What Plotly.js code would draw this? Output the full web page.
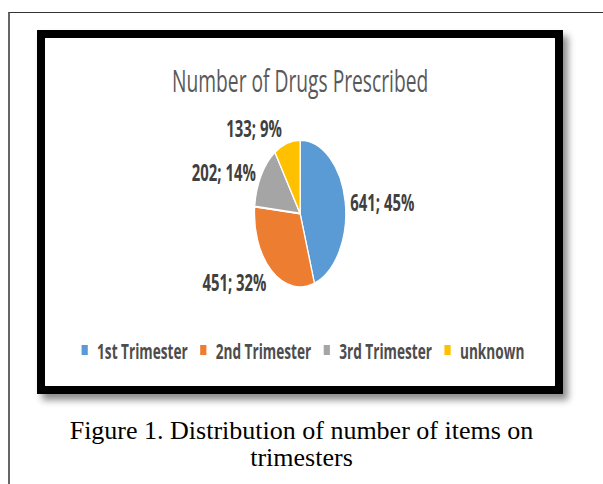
<!DOCTYPE html>
<html>
<head>
<meta charset="utf-8">
<script src="https://cdn.plot.ly/plotly-3.0.1.min.js"></script>
<style>
  html, body { margin: 0; padding: 0; background: #fff; overflow: hidden; width: 603px; height: 484px; }
  #frame { position: absolute; left: 8px; top: 12px; width: 700px; height: 600px;
           border-left: 2px solid #666; border-top: 1px solid #333; }
  #box { position: absolute; left: 37px; top: 30px; width: 526px; height: 364px;
         box-sizing: border-box; border: 8px solid #000; background: #fff;
         box-shadow: 5px 6px 7px rgba(0,0,0,0.45); }
  #chart { position: absolute; left: 45px; top: 38px; width: 823px; height: 348px;
           transform-origin: 0 0; transform: scaleX(0.62); }
  #caption { position: absolute; left: 0; top: 417px; width: 603px; text-align: center;
             font-family: "Liberation Serif", "Times New Roman", serif; font-size: 26px;
             line-height: 27px; color: #000; }
</style>
</head>
<body>
<div id="frame"></div>
<div id="box"></div>
<div id="chart"></div>
<div id="caption">Figure 1. Distribution of number of items on<br>trimesters</div>
<script>
// Prescribed drug counts per pregnancy trimester
const categories = ["1st Trimester", "2nd Trimester", "3rd Trimester", "unknown"];
const counts = [641, 451, 202, 133];
const sliceColors = ["#5B9BD5", "#ED7D31", "#A5A5A5", "#FFC000"];
const chartTitle = "Number of Drugs Prescribed";

const trace = {
  type: "pie",
  labels: categories,
  values: counts,
  sort: false,
  direction: "clockwise",
  rotation: 0,
  marker: { colors: sliceColors, line: { color: "#ffffff", width: 2 } },
  textposition: "outside",
  texttemplate: "%{value}; %{percent:.0%}",
  outsidetextfont: { family: "Open Sans", size: 24, color: "#404040", weight: "bold" },
  hoverinfo: "none",
  domain: { x: [0, 1], y: [0.284, 0.707] }
};

const layout = {
  width: 823,
  height: 348,
  margin: { l: 0, r: 0, t: 0, b: 0 },
  paper_bgcolor: "rgba(0,0,0,0)",
  plot_bgcolor: "rgba(0,0,0,0)",
  title: {
    text: chartTitle,
    font: { family: "Open Sans", size: 31, color: "#595959" },
    x: 0.5, xanchor: "center",
    y: 0.876, yanchor: "middle", yref: "container"
  },
  showlegend: true,
  legend: {
    orientation: "h",
    x: 0.5, xanchor: "center",
    y: 0.103, yanchor: "middle",
    font: { family: "Open Sans", size: 22, color: "#4d4d4d", weight: "bold" },
    traceorder: "normal"
  }
};

Plotly.newPlot("chart", [trace], layout, { staticPlot: true, displayModeBar: false });
</script>
</body>
</html>
